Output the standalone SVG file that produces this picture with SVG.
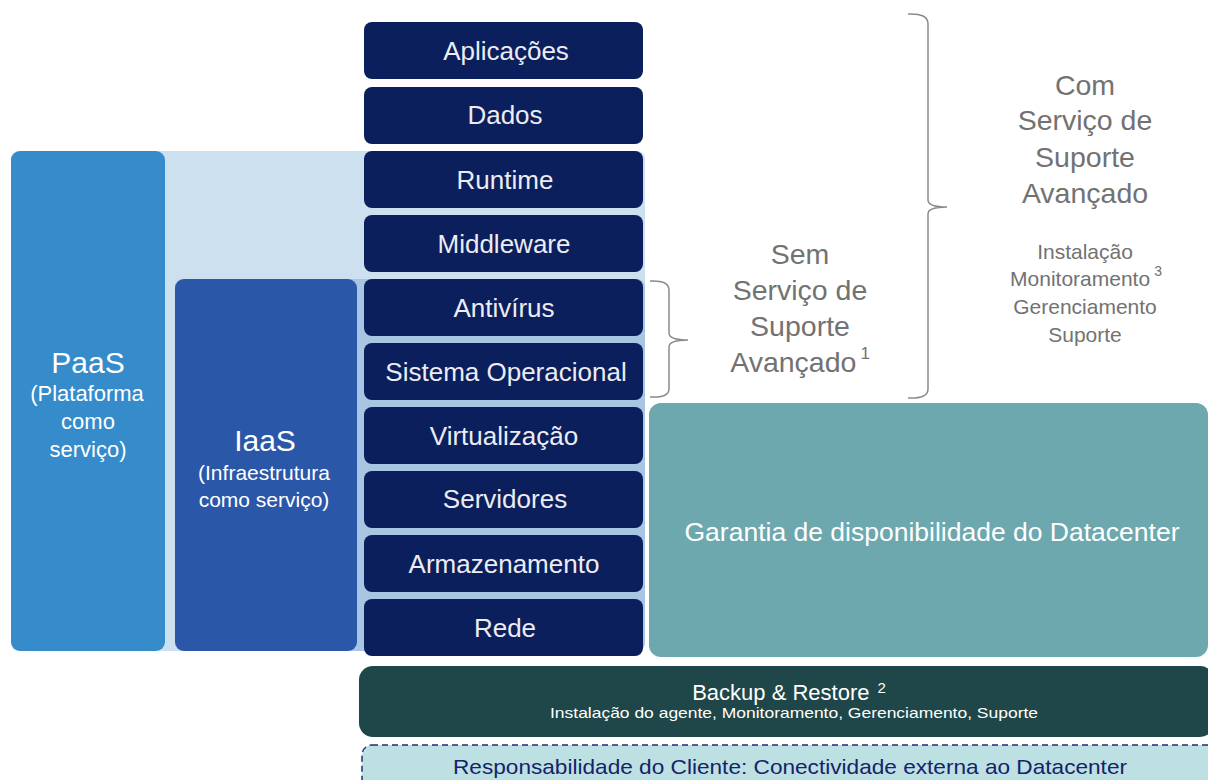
<svg xmlns="http://www.w3.org/2000/svg" width="1208" height="780" viewBox="0 0 1208 780">
<style>
text{font-family:"Liberation Sans",Arial,sans-serif}
.stk{fill:#0b1f5c}
.st{fill:#ececf2;font-size:26px;text-anchor:middle;dominant-baseline:central}
.gr{fill:#727272;text-anchor:middle;dominant-baseline:central}
.wt{fill:#ffffff;text-anchor:middle;dominant-baseline:central}
.br{fill:none;stroke:#8a8a8a;stroke-width:1.5}
</style>
<rect width="1208" height="780" fill="#ffffff"/>
<g id="paas-backdrop"><rect x="11" y="151" width="634" height="500" rx="8" fill="#cce0f0"/></g>
<g id="iaas-backdrop"><rect x="175" y="279" width="470" height="372" rx="8" fill="#a8c6e4"/></g>
<g id="paas"><rect x="11" y="151" width="154" height="500" rx="9" fill="#368bcb"/>
<text class="wt" x="88" y="362" font-size="30">PaaS</text>
<text class="wt" x="87" y="393" font-size="22">(Plataforma</text>
<text class="wt" x="88" y="421" font-size="22">como</text>
<text class="wt" x="88" y="449" font-size="22">serviço)</text></g>
<g id="iaas"><rect x="175" y="279" width="182" height="372" rx="9" fill="#2b57a9"/>
<text class="wt" x="265" y="440" font-size="30">IaaS</text>
<text class="wt" x="264" y="472" font-size="21">(Infraestrutura</text>
<text class="wt" x="264" y="499" font-size="21">como serviço)</text></g>
<g id="aplicacoes"><rect class="stk" x="364" y="22" width="279" height="57" rx="8"/><text class="st" x="506" y="51">Aplicações</text></g>
<g id="dados"><rect class="stk" x="364" y="87" width="279" height="57" rx="8"/><text class="st" x="505" y="115">Dados</text></g>
<g id="runtime"><rect class="stk" x="364" y="151" width="279" height="57" rx="8"/><text class="st" x="505" y="180">Runtime</text></g>
<g id="middleware"><rect class="stk" x="364" y="215" width="279" height="57" rx="8"/><text class="st" x="504" y="244">Middleware</text></g>
<g id="antivirus"><rect class="stk" x="364" y="279" width="279" height="57" rx="8"/><text class="st" x="504" y="308">Antivírus</text></g>
<g id="so"><rect class="stk" x="364" y="343" width="279" height="57" rx="8"/><text class="st" x="506" y="372">Sistema Operacional</text></g>
<g id="virtualizacao"><rect class="stk" x="364" y="407" width="279" height="57" rx="8"/><text class="st" x="504" y="436">Virtualização</text></g>
<g id="servidores"><rect class="stk" x="364" y="471" width="279" height="57" rx="8"/><text class="st" x="505" y="499">Servidores</text></g>
<g id="armazenamento"><rect class="stk" x="364" y="535" width="279" height="57" rx="8"/><text class="st" x="504" y="564">Armazenamento</text></g>
<g id="rede"><rect class="stk" x="364" y="599" width="279" height="57" rx="8"/><text class="st" x="505" y="628">Rede</text></g>
<g id="connectors">
<path class="br" d="M650,281 Q669,280 669,290 L669,333 Q669,340 688,340 Q669,340 669,347 L669,389 Q669,398 650,397"/>
<path class="br" d="M908,14 Q928,13 928,24 L928,200 Q928,207 947,207 Q928,207 928,214 L928,389 Q928,399 908,398"/>
</g>
<g id="sem-suporte">
<text class="gr" x="800" y="254" font-size="28.5">Sem</text>
<text class="gr" x="800" y="290" font-size="28.5">Serviço de</text>
<text class="gr" x="800" y="326" font-size="28.5">Suporte</text>
<text class="gr" x="800" y="362" font-size="28.5">Avançado<tspan font-size="17" dx="4" dy="-9">1</tspan></text>
</g>
<g id="com-suporte">
<text class="gr" x="1085" y="85" font-size="28.5">Com</text>
<text class="gr" x="1085" y="120" font-size="28.5">Serviço de</text>
<text class="gr" x="1085" y="157" font-size="28.5">Suporte</text>
<text class="gr" x="1085" y="193" font-size="28.5">Avançado</text>
<text class="gr" x="1085" y="251" font-size="21">Instalação</text>
<text class="gr" x="1086" y="278" font-size="21">Monitoramento<tspan font-size="14" dx="4" dy="-7">3</tspan></text>
<text class="gr" x="1085" y="306" font-size="21">Gerenciamento</text>
<text class="gr" x="1085" y="334" font-size="21">Suporte</text>
</g>
<g id="garantia"><rect x="649" y="403" width="559" height="254" rx="12" fill="#6ca8ae"/>
<text class="wt" x="932" y="532" font-size="26.5">Garantia de disponibilidade do Datacenter</text></g>
<g id="backup"><rect x="359" y="666" width="855" height="71" rx="14" fill="#1f4648"/>
<text class="wt" x="789" y="692" font-size="22" fill="#f0f0f0">Backup &amp; Restore<tspan font-size="15" dx="8" dy="-5">2</tspan></text>
<text class="wt" x="794" y="712" font-size="15" textLength="488" lengthAdjust="spacingAndGlyphs">Instalação do agente, Monitoramento, Gerenciamento, Suporte</text></g>
<g id="cliente"><rect x="362" y="745" width="860" height="50" rx="10" fill="#bde0e2" stroke="#1a2f7a" stroke-width="1.5" stroke-dasharray="6,4"/>
<text x="790" y="766" font-size="21" fill="#14236a" text-anchor="middle" dominant-baseline="central" textLength="674" lengthAdjust="spacingAndGlyphs">Responsabilidade do Cliente: Conectividade externa ao Datacenter</text></g>
</svg>
